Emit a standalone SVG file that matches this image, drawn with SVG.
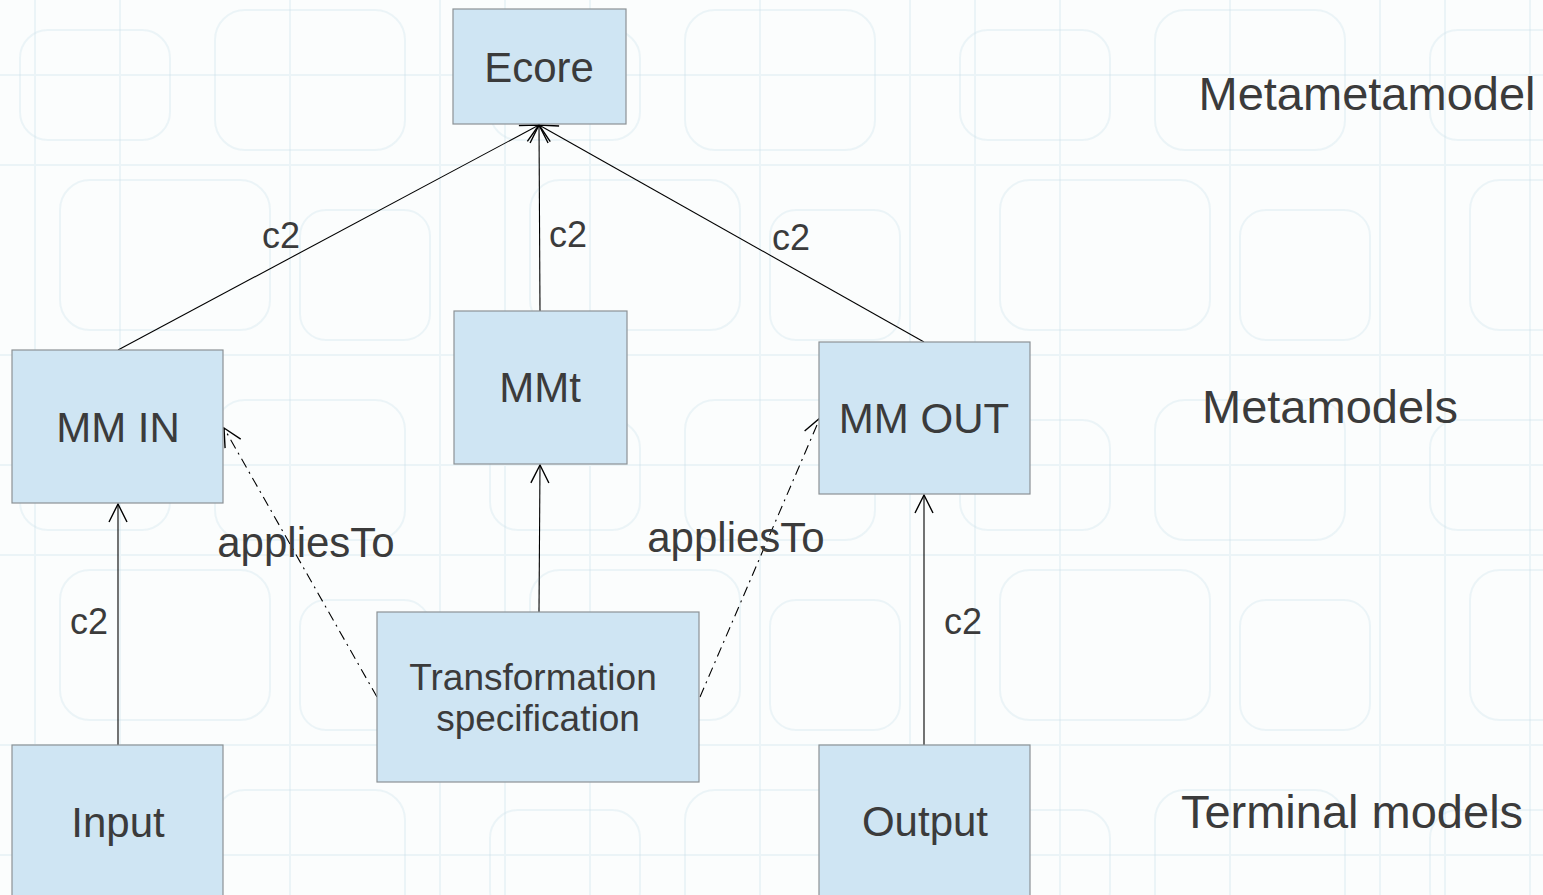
<svg xmlns="http://www.w3.org/2000/svg" width="1543" height="895" viewBox="0 0 1543 895">
  <defs>
    <style>
      .node rect { fill: #cfe5f3; stroke: #8c9296; stroke-width: 1.2; }
      .node text, .label { font-family: "Liberation Sans", Arial, sans-serif; fill: #3b3b3b; text-anchor: middle; }
      .edge { stroke: #000; stroke-width: 1.1; fill: none; }
      .dashdot { stroke-dasharray: 10 5 2 5; }
      .bg path, .bg rect { fill: none; stroke: #cfe3ea; stroke-width: 2; opacity: 0.35; }
    </style>
    <marker id="open" markerUnits="userSpaceOnUse" markerWidth="40" markerHeight="40" refX="0" refY="0" viewBox="-20 -20 40 40" orient="auto">
      <path d="M-18,-9 L0,0 L-18,9" fill="none" stroke="#000" stroke-width="1.4"/>
    </marker>
    <pattern id="tiles" patternUnits="userSpaceOnUse" width="470" height="390">
      <g class="bg">
        <rect x="20" y="30" width="150" height="110" rx="28"/>
        <rect x="215" y="10" width="190" height="140" rx="30"/>
        <rect x="60" y="180" width="210" height="150" rx="30"/>
        <rect x="300" y="210" width="130" height="130" rx="26"/>
        <path d="M0 165 H470 M0 355 H470 M120 0 V390 M290 0 V390 M440 0 V390 M0 75 H470 M35 0 V390"/>
      </g>
    </pattern>
  </defs>

  <!-- backdrop -->
  <rect x="0" y="0" width="1543" height="895" fill="#fbfdfd"/>
  <rect x="0" y="0" width="1543" height="895" fill="url(#tiles)"/>

  <!-- level captions -->
  <g id="levels">
    <text class="label" x="1367" y="110" font-size="47">Metametamodel</text>
    <text class="label" x="1330" y="423" font-size="47">Metamodels</text>
    <text class="label" x="1352" y="828" font-size="47">Terminal models</text>
  </g>

  <!-- connectors -->
  <g id="connectors">
    <path class="edge" d="M118,350 L539,125" marker-end="url(#open)"/>
    <path class="edge" d="M540,311 L539,125" marker-end="url(#open)"/>
    <path class="edge" d="M924,342 L539,125" marker-end="url(#open)"/>
    <path class="edge" d="M118,745 L118,504" marker-end="url(#open)"/>
    <path class="edge" d="M539,612 L540,465" marker-end="url(#open)"/>
    <path class="edge" d="M924,745 L924,495" marker-end="url(#open)"/>
    <path class="edge dashdot" d="M377,697 L224,428" marker-end="url(#open)"/>
    <path class="edge dashdot" d="M700,697 L820,418" marker-end="url(#open)"/>
    <text class="label" x="281" y="248" font-size="36">c2</text>
    <text class="label" x="568" y="247" font-size="36">c2</text>
    <text class="label" x="791" y="250" font-size="36">c2</text>
    <text class="label" x="89" y="634" font-size="36">c2</text>
    <text class="label" x="963" y="634" font-size="36">c2</text>
    <text class="label" x="306" y="557" font-size="42">appliesTo</text>
    <text class="label" x="736" y="552" font-size="42">appliesTo</text>
  </g>

  <!-- nodes -->
  <g id="ecore" class="node">
    <rect x="453" y="9" width="173" height="115"/>
    <text x="539" y="82" font-size="42">Ecore</text>
  </g>
  <g id="mm-in" class="node">
    <rect x="12" y="350" width="211" height="153"/>
    <text x="118" y="442" font-size="42">MM IN</text>
  </g>
  <g id="mmt" class="node">
    <rect x="454" y="311" width="173" height="153"/>
    <text x="540" y="402" font-size="42">MMt</text>
  </g>
  <g id="mm-out" class="node">
    <rect x="819" y="342" width="211" height="152"/>
    <text x="924" y="433" font-size="42">MM OUT</text>
  </g>
  <g id="transformation" class="node">
    <rect x="377" y="612" width="322" height="170"/>
    <text x="533" y="690" font-size="37">Transformation</text>
    <text x="538" y="731" font-size="37">specification</text>
  </g>
  <g id="input" class="node">
    <rect x="12" y="745" width="211" height="160"/>
    <text x="118" y="837" font-size="42">Input</text>
  </g>
  <g id="output" class="node">
    <rect x="819" y="745" width="211" height="160"/>
    <text x="925" y="836" font-size="42">Output</text>
  </g>
</svg>
